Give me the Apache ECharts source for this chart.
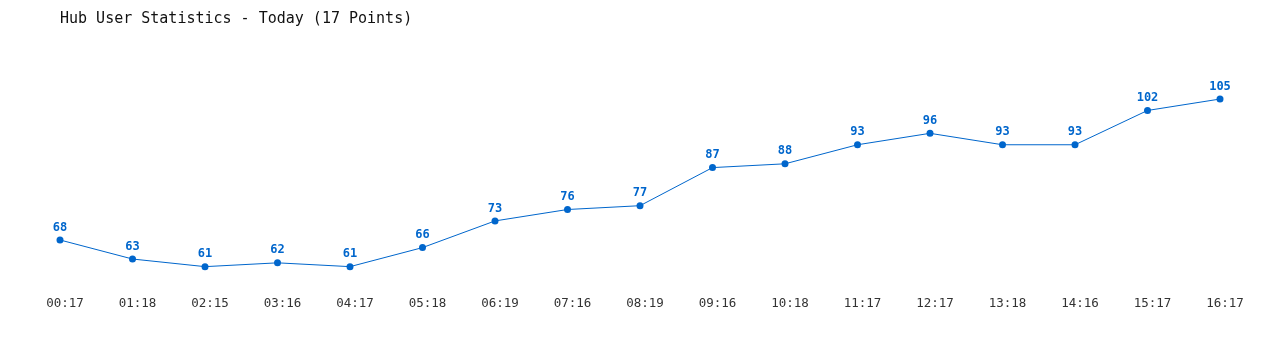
<!DOCTYPE html>
<html><head><meta charset="utf-8">
<script src="https://cdn.jsdelivr.net/npm/echarts@6/dist/echarts.min.js"></script>
<style>html,body{margin:0;padding:0;background:#fff}#c{width:1280px;height:350px}</style>
</head><body><div id="c"></div>
<script>
const categories = ["00:17","01:18","02:15","03:16","04:17","05:18","06:19","07:16","08:19","09:16","10:18","11:17","12:17","13:18","14:16","15:17","16:17"];
const users = [68,63,61,62,61,66,73,76,77,87,88,93,96,93,93,102,105];
const titleText = "Hub User Statistics - Today (17 Points)";
const mono = "'DejaVu Sans Mono', 'Liberation Mono', monospace";
const chart = echarts.init(document.getElementById('c'));
chart.setOption({
  animation: false,
  backgroundColor: '#fff',
  title: { text: titleText, left: 55, top: 7, textStyle: { fontFamily: mono, fontSize: 15, fontWeight: 'normal', color: '#111' } },
  grid: { left: 60, right: 60, top: 80, bottom: 60.5 },
  xAxis: { type: 'category', data: categories, boundaryGap: false,
    axisLine: { show: false }, axisTick: { show: false }, splitLine: { show: false },
    axisLabel: { fontFamily: mono, fontSize: 12.5, color: '#333', margin: 8, padding: [0, 0, 0, 10] } },
  yAxis: { type: 'value', min: 55, max: 110, show: false, splitLine: { show: false } },
  series: [{ type: 'line', data: users, color: '#0066cc',
    lineStyle: { width: 1, color: '#0066cc' },
    symbol: 'circle', symbolSize: 7, itemStyle: { color: '#0066cc' },
    label: { show: true, position: 'top', distance: 3, fontFamily: mono, fontSize: 12, fontWeight: 'bold', color: '#0066cc' } }]
});
</script></body></html>
